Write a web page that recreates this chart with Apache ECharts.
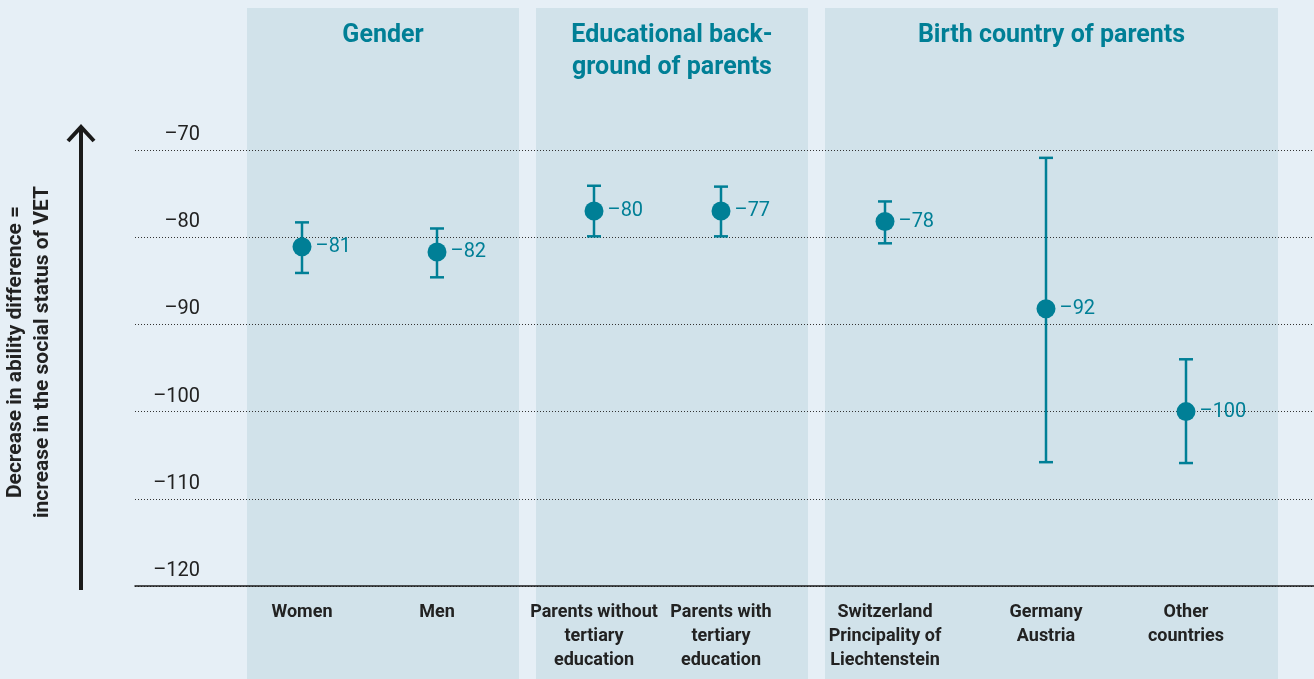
<!DOCTYPE html>
<html><head><meta charset="utf-8">
<script src="https://cdn.jsdelivr.net/npm/echarts@6/dist/echarts.min.js"></script>
<style>html,body{margin:0;padding:0;background:#e6eff6}#c{width:1314px;height:679px}</style>
</head><body><div id="c"></div>
<script>
const categories = ['Women','Men','Parents without\ntertiary\neducation','Parents with\ntertiary\neducation','Switzerland\nPrincipality of\nLiechtenstein','Germany\nAustria','Other\ncountries'];
const xPos = [167, 302, 459, 586, 750, 911, 1051];
const means = [-81.1, -81.7, -77.0, -77.0, -78.2, -88.2, -100.0];
const lower = [-84.1, -84.6, -79.9, -79.9, -80.7, -105.8, -105.9];
const upper = [-78.3, -79.0, -74.1, -74.2, -75.9, -70.9, -94.0];
const valueLabels = ['–81','–82','–80','–77','–78','–92','–100'];
const groups = ['Gender','Educational back-\nground of parents','Birth country of parents'];
const groupStart = [112, 401, 690];
const groupEnd = [384, 673, 1143];
const yMin = -120, yMax = -70, yStep = 10;

const teal = '#007f96';
const dark = '#222222';
const FONT = 'Roboto';

const chart = echarts.init(document.getElementById('c'), null, {renderer:'canvas'});
chart.setOption({
  backgroundColor: '#e6eff6',
  animation: false,
  textStyle: {fontFamily: FONT},
  grid: [
    {left: 135, right: 0, top: 150, bottom: 93},
    {left: 135, right: 0, top: 8, bottom: 0}
  ],
  xAxis: [
    {type:'value', gridIndex:0, min:0, max:1179, z:5,
     axisLine:{show:true, onZero:false, lineStyle:{color:'#1a1a1a', width:1.5}},
     axisTick:{show:false}, splitLine:{show:false},
     axisLabel:{customValues: xPos, formatter: v => categories[xPos.indexOf(v)],
       fontWeight:'bold', fontSize:18, color:dark, lineHeight:24, margin:14, fontFamily:FONT}},
    {type:'value', gridIndex:1, min:0, max:1179, show:false}
  ],
  yAxis: [
    {type:'value', gridIndex:0, min:yMin, max:yMax, interval:yStep, z:5,
     axisLine:{show:false}, axisTick:{show:false},
     splitLine:{show:true, lineStyle:{color:'#333', width:1, type:[1,2]}},
     axisLabel:{inside:true, align:'right', margin:65, verticalAlign:'bottom', lineHeight:20,
       padding:[0,0,5,0], fontSize:20, color:dark, fontFamily:FONT,
       formatter: v => '–' + Math.abs(v)}},
    {type:'value', gridIndex:1, min:0, max:1, show:false}
  ],
  series: [
    {type:'scatter', xAxisIndex:1, yAxisIndex:1, data:[], z:1, silent:true,
     markArea:{silent:true,
       itemStyle:{color:'#d1e2ea', opacity:1},
       label:{show:true, position:'insideTop', distance:12, color:teal, fontWeight:'bold',
         fontSize:25, lineHeight:32, fontFamily:FONT, align:'center'},
       data: groups.map((g,i)=>[{name:g, xAxis:groupStart[i], yAxis:1},{xAxis:groupEnd[i], yAxis:0}])}},
    {type:'custom', xAxisIndex:0, yAxisIndex:0, z:6, silent:true,
     data: xPos.map((x,i)=>[x, lower[i], upper[i]]),
     renderItem: (params, api) => {
       const x = api.value(0);
       const lo = api.coord([x, api.value(1)]);
       const hi = api.coord([x, api.value(2)]);
       const w = 7;
       const style = {stroke: teal, lineWidth: 2.5};
       return {type:'group', children:[
         {type:'line', shape:{x1:lo[0],y1:lo[1],x2:hi[0],y2:hi[1]}, style},
         {type:'line', shape:{x1:lo[0]-w,y1:lo[1],x2:lo[0]+w,y2:lo[1]}, style},
         {type:'line', shape:{x1:hi[0]-w,y1:hi[1],x2:hi[0]+w,y2:hi[1]}, style}
       ]};
     }},
    {type:'scatter', xAxisIndex:0, yAxisIndex:0, z:7, silent:true,
     symbolSize:19, itemStyle:{color:teal, opacity:1},
     data: xPos.map((x,i)=>[x, means[i]]),
     label:{show:true, position:'right', distance:4, color:teal, fontSize:20, fontFamily:FONT,
       formatter: p => valueLabels[p.dataIndex]}}
  ],
  graphic: [
    {type:'line', shape:{x1:81,y1:590,x2:81,y2:129}, style:{stroke:'#1a1a1a', lineWidth:4}},
    {type:'polyline', shape:{points:[[68,141],[81,127],[94,141]]}, style:{stroke:'#1a1a1a', lineWidth:4, fill:null}},
    {type:'text', x:29, y:352, rotation:Math.PI/2,
     style:{text:'Decrease in ability difference =\nincrease in the social status of VET',
       textAlign:'center', textVerticalAlign:'middle', font:'bold 21px Roboto', fill:dark, lineHeight:27}}
  ]
});
</script></body></html>
